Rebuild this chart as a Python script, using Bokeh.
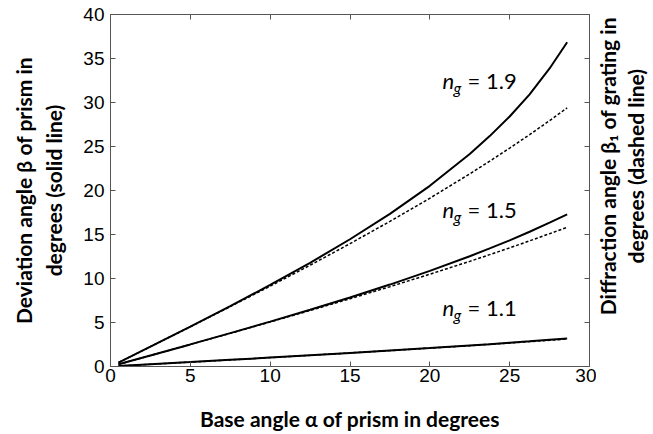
import math
from bokeh.plotting import figure
from bokeh.layouts import row
from bokeh.models import LinearAxis, FixedTicker, CustomJSTickFormatter, Range1d
from bokeh.core.properties import value
from bokeh.embed import file_html
from bokeh.resources import INLINE

# base angle alpha (degrees)
alpha = [0.5, 2.5, 5, 7.5, 10, 12.5, 15, 17.5, 20, 22.5, 23.75, 25, 26.25, 27.5, 28.6]
# prism deviation (solid)
prism_19 = [0.45, 2.25, 4.53, 6.86, 9.27, 11.78, 14.46, 17.35, 20.53, 24.14, 26.18, 28.41, 30.93, 33.87, 36.84]
prism_15 = [0.25, 1.25, 2.51, 3.79, 5.10, 6.45, 7.84, 9.31, 10.87, 12.53, 13.42, 14.34, 15.31, 16.34, 17.29]
prism_11 = [0.05, 0.25, 0.50, 0.76, 1.01, 1.27, 1.54, 1.82, 2.10, 2.40, 2.54, 2.70, 2.86, 3.03, 3.17]
# grating diffraction (dashed)
grat_19 = [0.45, 2.25, 4.52, 6.81, 9.13, 11.51, 13.96, 16.49, 19.12, 21.89, 23.33, 24.82, 26.35, 27.94, 29.39]
grat_15 = [0.25, 1.25, 2.51, 3.77, 5.06, 6.36, 7.70, 9.07, 10.49, 11.95, 12.71, 13.48, 14.28, 15.09, 15.82]
grat_11 = [0.05, 0.25, 0.50, 0.75, 1.01, 1.27, 1.54, 1.81, 2.09, 2.37, 2.52, 2.67, 2.83, 2.98, 3.13]

x_ticks = [0, 5, 10, 15, 20, 25, 30]
y_ticks = [0, 5, 10, 15, 20, 25, 30, 35, 40]

ng_labels = ["1.9", "1.5", "1.1"]
ng_label_x = [20.8, 20.8, 20.8]
ng_label_y = [32.5, 17.8, 6.7]

right_label_lines = ["Diffraction angle β₁ of grating in", "degrees (dashed line)"]

MAIN_W, SIDE_W, H = 596, 57, 434

p = figure(width=MAIN_W, height=H, output_backend="svg", toolbar_location=None,
           x_range=Range1d(0, 30), y_range=Range1d(0, 40),
           min_border_left=110, min_border_right=7, min_border_top=14, min_border_bottom=68)
p.grid.visible = False
p.outline_line_color = "#555555"
p.background_fill_color = "white"
p.border_fill_color = "white"

tick_font = "Liberation Sans"
label_font = "Lato"

def style_axis(ax):
    ax.major_tick_in = 5
    ax.major_tick_out = 0
    ax.minor_tick_in = 0
    ax.minor_tick_out = 0
    ax.axis_line_color = "#555555"
    ax.major_tick_line_color = "#555555"
    ax.major_label_text_font = tick_font
    ax.major_label_text_font_size = "19px"
    ax.major_label_text_color = "black"
    ax.axis_label_text_font = label_font
    ax.axis_label_text_font_style = "bold"
    ax.axis_label_text_font_size = "21px"
    ax.axis_label_text_color = "black"

p.xaxis.ticker = FixedTicker(ticks=x_ticks)
p.yaxis.ticker = FixedTicker(ticks=y_ticks)
p.xaxis.axis_label = "Base angle α of prism in degrees"
p.yaxis.axis_label = "Deviation angle β of prism in\ndegrees (solid line)"
for ax in p.xaxis + p.yaxis:
    style_axis(ax)
p.xaxis.major_label_standoff = 2
p.yaxis.major_label_standoff = 6
p.xaxis.axis_label_standoff = 21
p.yaxis.axis_label_standoff = 14

blank = CustomJSTickFormatter(code="return ''")
ax_top = LinearAxis(ticker=FixedTicker(ticks=x_ticks), formatter=blank)
style_axis(ax_top)
ax_top.major_label_text_font_size = "0px"
ax_top.major_label_standoff = 0
p.add_layout(ax_top, "above")
ax_right = LinearAxis(ticker=FixedTicker(ticks=y_ticks), formatter=blank)
style_axis(ax_right)
ax_right.major_label_text_font_size = "0px"
ax_right.major_label_standoff = 0
p.add_layout(ax_right, "right")

for ys in (prism_19, prism_15, prism_11):
    p.line(alpha, ys, line_color="black", line_width=2)
for ys in (grat_19, grat_15, grat_11):
    p.line(alpha, ys, line_color="black", line_width=1.5, line_dash="3 2")

# labels n_g = ...
p.text(ng_label_x, ng_label_y, text=["n"] * 3, text_font=value(label_font), text_font_style="italic",
       text_font_size="22px", text_baseline="middle", text_color="black")
p.text(ng_label_x, ng_label_y, text=["g"] * 3, text_font=value(label_font), text_font_style="italic",
       text_font_size="16px", text_baseline="middle", text_color="black", x_offset=11, y_offset=7)
p.text(ng_label_x, ng_label_y, text=["= " + s for s in ng_labels], text_font=value(label_font),
       text_font_size="22px", text_baseline="middle", text_color="black", x_offset=25)

# side panel holding the right-hand axis title (reads bottom to top)
side = figure(width=SIDE_W, height=H, output_backend="svg", toolbar_location=None,
              x_range=Range1d(0, SIDE_W), y_range=Range1d(0, H),
              x_axis_type=None, y_axis_type=None,
              min_border_left=0, min_border_right=0, min_border_top=0, min_border_bottom=0)
side.grid.visible = False
side.outline_line_color = None
side.text(x=[11, 39], y=[H - 187, H - 187], text=right_label_lines, angle=math.pi / 2,
          text_align="center", text_baseline="middle", text_font=value(label_font),
          text_font_style="bold", text_font_size="21px", text_color="black")

layout = row(p, side, spacing=0)
open("out.html", "w").write(file_html(layout, INLINE))
